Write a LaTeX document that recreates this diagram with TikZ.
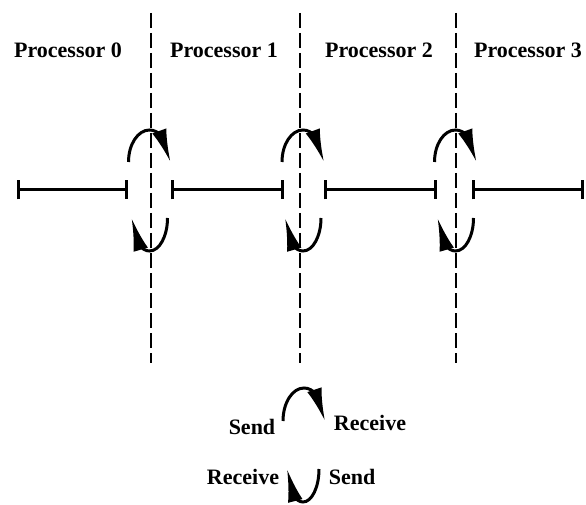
\documentclass[tikz,border=0pt]{standalone}
\usepackage{fontspec}
\setmainfont{Liberation Serif}
\usetikzlibrary{arrows.meta,bending}
\begin{document}
\begin{tikzpicture}[x=1pt,y=1pt,
  lbl/.style={font=\fontsize{22}{26}\selectfont\bfseries, inner sep=0pt},
  divider/.style={line width=1.8pt, dash pattern=on 15pt off 5pt},
  seg/.style={line width=3pt, {Bar[width=19pt]}-{Bar[width=19pt]}},
  xchg/.style={line width=3pt, -{Latex[length=33pt,width=15pt,flex]}}]
\useasboundingbox (0,0) rectangle (586,504);
% dividers
\foreach \x/\n in {151/a,300/b,456/c}{
  \coordinate (top\n) at (\x,491);
  \coordinate (bot\n) at (\x,141);
  \draw[divider] (top\n) -- (bot\n);
}
% labels
\node[lbl] (p0) at (68,454) {Processor 0};
\node[lbl] (p1) at (224,454) {Processor 1};
\node[lbl] (p2) at (379,454) {Processor 2};
\node[lbl] (p3) at (528,454) {Processor 3};
% segments
\foreach \a/\b/\n in {17/128/1,171/284/2,324/437/3,472/584/4}{
  \coordinate (s\n) at (\a,314);
  \coordinate (e\n) at (\b,314);
  \draw[seg] (s\n) -- (e\n);
}
% exchange arrows
\foreach \cx/\n in {149.5/1,303/2,455.5/3}{
  \coordinate (u\n) at (\cx-21,342);
  \coordinate (l\n) at (\cx+18,286);
  \draw[xchg] (u\n) arc[start angle=180,end angle=0,x radius=21,y radius=32];
  \draw[xchg] (l\n) arc[start angle=0,end angle=-180,x radius=18,y radius=33];
}
% legend
\node[lbl] (ls1) at (252,77) {Send};
\node[lbl] (lr1) at (370,81) {Receive};
\coordinate (lu) at (283,83);
\draw[xchg] (lu) arc[start angle=180,end angle=0,x radius=21,y radius=33];
\node[lbl] (lr2) at (243,27) {Receive};
\node[lbl] (ls2) at (352,27) {Send};
\coordinate (ll) at (319,35);
\draw[xchg] (ll) arc[start angle=0,end angle=-180,x radius=16,y radius=33];
\end{tikzpicture}
\end{document}
